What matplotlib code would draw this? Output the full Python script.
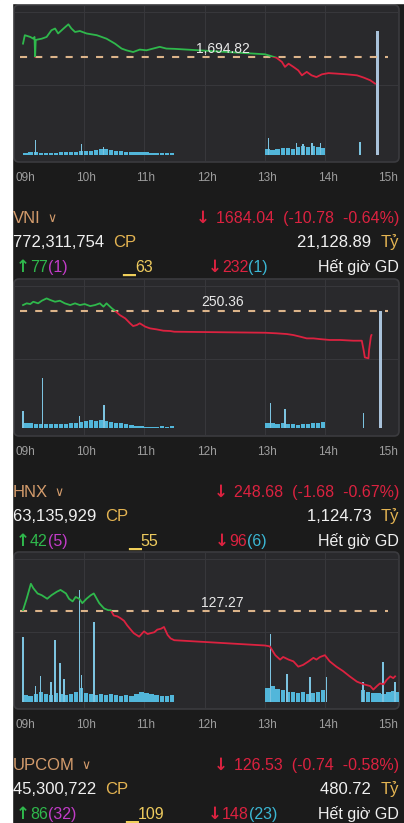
import matplotlib
matplotlib.use("Agg")
import matplotlib.pyplot as plt
from matplotlib.patches import Rectangle, FancyBboxPatch
from matplotlib.transforms import ScaledTranslation, IdentityTransform

plt.rcParams['font.family'] = ['Liberation Sans', 'DejaVu Sans']

W, H = 404, 823

# ---------------- data ----------------
hour_ticks = [9, 10, 11, 12, 13, 14, 15]
hour_labels = ["09h", "10h", "11h", "12h", "13h", "14h", "15h"]

# VNI
vni_ref = 1694.82
vni_t = [9.00, 9.03, 9.12, 9.17, 9.19, 9.20, 9.21, 9.23, 9.31, 9.39, 9.47, 9.53, 9.58, 9.67,
         9.75, 9.80, 9.86, 9.94, 10.05, 10.22, 10.38, 10.52, 10.63, 10.71, 10.82, 10.93, 11.04,
         11.15, 11.26, 11.37, 11.50, 13.00, 13.11, 13.19, 13.28, 13.33, 13.39, 13.47, 13.55,
         13.61, 13.69, 13.77, 13.85, 13.94, 14.05, 14.18, 14.35, 14.52, 14.63, 14.74, 14.82]
vni_p = [1700.2, 1703.6, 1702.9, 1702.2, 1702.9, 1694.8, 1701.6, 1701.8, 1702.2, 1702.9, 1705.6,
         1706.3, 1704.3, 1706.3, 1708.0, 1706.3, 1704.9, 1705.3, 1704.3, 1703.6, 1702.2, 1700.2,
         1698.2, 1697.5, 1696.8, 1697.8, 1697.5, 1698.2, 1698.9, 1698.2, 1698.1, 1695.9, 1695.1,
         1694.5, 1692.8, 1690.8, 1692.1, 1690.8, 1689.4, 1687.4, 1688.8, 1687.4, 1686.7, 1687.8,
         1688.3, 1688.1, 1687.8, 1687.4, 1686.5, 1685.4, 1684.04]
# khoi luong (don vi tuong doi), gom 5 phut
vni_vol_am = [2, 3, 3, 2, 2, 2, 2, 3, 3, 3, 3, 4, 4, 4, 5, 6, 6, 5, 4, 4, 3, 3, 3, 3, 3, 2, 2, 2, 2, 2]
vni_vol_pm = [6, 5, 6, 7, 7, 6, 8, 9, 8, 9, 8, 7]
vni_vol_late = []
vni_spike_t = [9.21, 9.97, 10.33, 13.06, 13.52, 13.63, 13.78, 13.92, 14.57]
vni_spike_v = [15, 11, 8, 17, 12, 11, 12, 12, 13]
vni_atc_t, vni_atc_v = 14.86, 124

# HNX
hnx_ref = 250.36
hnx_t = [9.00, 9.06, 9.12, 9.17, 9.25, 9.31, 9.39, 9.45, 9.53, 9.61, 9.69, 9.78, 9.86, 9.94,
         10.02, 10.11, 10.19, 10.27, 10.33, 10.38, 10.47, 10.52, 10.60, 10.69, 10.77, 10.82,
         10.88, 10.93, 11.02, 11.10, 11.21, 11.32, 11.43, 11.50, 13.00, 13.19, 13.36, 13.47,
         13.58, 13.69, 13.80, 13.91, 14.07, 14.24, 14.46, 14.60, 14.63, 14.65, 14.71, 14.72,
         14.75, 14.76]
hnx_p = [250.75, 250.87, 250.82, 250.98, 250.87, 251.05, 251.21, 251.10, 250.98, 251.05, 250.87,
         250.75, 250.87, 250.75, 250.82, 250.68, 250.75, 250.87, 250.64, 250.87, 250.52, 250.36,
         250.06, 249.83, 249.49, 249.30, 249.37, 249.49, 249.26, 249.14, 249.07, 248.98, 248.96,
         248.91, 248.84, 248.80, 248.75, 248.68, 248.57, 248.45, 248.45, 248.40, 248.34, 248.34,
         248.29, 248.29, 247.65, 247.14, 247.07, 247.65, 248.57, 248.68]
hnx_vol_am = [5, 5, 4, 4, 4, 4, 4, 4, 4, 5, 5, 6, 7, 8, 7, 8, 7, 6, 5, 5, 4, 3, 2, 2, 1, 1, 1, 2, 1, 2]
hnx_vol_pm = [5, 5, 4, 5, 4, 4, 3, 4, 4, 5, 5, 6]
hnx_vol_late = []
hnx_spike_t = [9.00, 9.32, 9.93, 10.34, 13.09, 13.33, 14.63]
hnx_spike_v = [17, 50, 12, 23, 25, 19, 15]
hnx_atc_t, hnx_atc_v = 14.91, 118

# UPCOM
upc_ref = 127.27
upc_t = [9.00, 9.06, 9.13, 9.17, 9.24, 9.31, 9.40, 9.47, 9.56, 9.62, 9.71, 9.76, 9.82, 9.87,
         9.93, 9.98, 10.05, 10.12, 10.17, 10.26, 10.34, 10.41, 10.45, 10.50, 10.56, 10.61,
         10.67, 10.72, 10.78, 10.83, 10.92, 11.00, 11.06, 11.11, 11.17, 11.22, 11.28, 11.33,
         11.39, 11.44, 11.50, 13.00, 13.08, 13.17, 13.25, 13.30, 13.39, 13.47, 13.55, 13.63,
         13.72, 13.80, 13.85, 13.91, 13.99, 14.07, 14.18, 14.29, 14.40, 14.52, 14.63, 14.74,
         14.79, 14.85, 14.90, 14.96, 15.01, 15.07, 15.12, 15.15]
upc_p = [127.28, 127.41, 127.58, 127.53, 127.47, 127.45, 127.41, 127.45, 127.49, 127.51, 127.47,
         127.41, 127.38, 127.43, 127.41, 127.36, 127.41, 127.45, 127.47, 127.36, 127.30, 127.28,
         127.28, 127.22, 127.21, 127.19, 127.16, 127.11, 127.06, 127.02, 126.98, 127.04, 127.01,
         127.02, 127.03, 127.06, 127.07, 127.09, 127.00, 126.96, 126.94, 126.88, 126.87, 126.77,
         126.72, 126.75, 126.72, 126.70, 126.64, 126.66, 126.70, 126.74, 126.72, 126.75, 126.77,
         126.70, 126.64, 126.59, 126.53, 126.47, 126.44, 126.42, 126.38, 126.42, 126.45, 126.44,
         126.49, 126.53, 126.51, 126.53]
upc_vol_am = [7, 6, 8, 10, 8, 7, 9, 8, 7, 8, 10, 14, 9, 8, 7, 8, 7, 8, 7, 6, 7, 6, 8, 10, 9, 8, 7, 6, 6, 7]
upc_vol_pm = [14, 16, 13, 12, 10, 10, 9, 10, 8, 9, 10, 12]
upc_vol_late = [12, 10, 9, 9, 8, 10, 11, 10]
upc_spike_t = [9.00, 9.21, 9.29, 9.46, 9.53, 9.61, 9.68, 9.93, 9.97, 10.17, 13.09, 13.36, 13.74,
               14.02, 14.62, 14.95, 15.15]
upc_spike_v = [65, 16, 26, 20, 62, 39, 23, 112, 27, 80, 68, 28, 25, 25, 20, 40, 20]
upc_atc_t, upc_atc_v = None, 0

# thong tin ben duoi moi bieu do
names = ["VNI", "HNX", "UPCOM"]
closes = ["1684.04  (-10.78  -0.64%)", "248.68  (-1.68  -0.67%)", "126.53  (-0.74  -0.58%)"]
volumes = ["772,311,754", "63,135,929", "45,300,722"]
values = ["21,128.89", "1,124.73", "480.72"]
n_up = ["77", "42", "86"]
n_ceil = ["(1)", "(5)", "(32)"]
n_flat = ["63", "55", "109"]
n_down = ["232", "96", "148"]
n_floor = ["(1)", "(6)", "(23)"]

# ---------------- layout / style ----------------
BG = '#1b1b1b'
BOX = '#29292c'
GREEN = '#2fb84c'
RED = '#dc2240'
TAN = '#d49c6c'
GOLD = '#e4b452'
WHITE = '#f0f0f0'
ARROW = ['DejaVu Sans']

box_tops = [5, 279, 552]
box_h = 157
box_x0, box_w = 14, 385
ylims = [(1652.4, 1715.8), (241.71, 252.55), (126.16, 127.94)]
xlim = (8.851, 15.215)
vol_lim = (-7.5, 149.5)
flat_x = [122, 128, 125]
down_x = [208, 215, 208]

fig = plt.figure(figsize=(W / 100, H / 100), dpi=100, facecolor=BG)

panels = [
    (vni_ref, vni_t, vni_p, vni_vol_am, vni_vol_pm, vni_vol_late, vni_spike_t, vni_spike_v, vni_atc_t, vni_atc_v),
    (hnx_ref, hnx_t, hnx_p, hnx_vol_am, hnx_vol_pm, hnx_vol_late, hnx_spike_t, hnx_spike_v, hnx_atc_t, hnx_atc_v),
    (upc_ref, upc_t, upc_p, upc_vol_am, upc_vol_pm, upc_vol_late, upc_spike_t, upc_spike_v, upc_atc_t, upc_atc_v),
]


def buckets(start, n):
    return [start + (i + 0.5) * 5 / 60 for i in range(n)]


for i, (ref, t, p, v_am, v_pm, v_late, sp_t, sp_v, atc_t, atc_v) in enumerate(panels):
    top = box_tops[i]
    rect = [box_x0 / W, 1 - (top + box_h) / H, box_w / W, box_h / H]

    fig.patches.append(FancyBboxPatch((box_x0, H - top - box_h), box_w, box_h,
                                      boxstyle="round,pad=0,rounding_size=5",
                                      transform=IdentityTransform(), facecolor=BOX,
                                      edgecolor='#3b3b3f', lw=1.2, zorder=-5))

    # khoi luong
    vax = fig.add_axes(rect)
    vax.patch.set_visible(False)
    vax.set_xlim(*xlim)
    vax.set_ylim(*vol_lim)
    vax.set_axis_off()
    for hh in hour_ticks[1:-1]:
        vax.axvline(hh, color='#37373b', lw=0.8, zorder=0)
    for f in (0.955, 0.49):
        vax.plot([0, 1], [f, f], transform=vax.transAxes, color='#37373b', lw=0.8, zorder=0)
    vax.bar(buckets(9.0, len(v_am)), v_am, width=4.2 / 60, color='#52b6da', lw=0)
    vax.bar(buckets(13.0, len(v_pm)), v_pm, width=4.2 / 60, color='#52b6da', lw=0)
    vax.bar(buckets(14 + 35 / 60, len(v_late)), v_late, width=4.2 / 60, color='#52b6da', lw=0)
    vax.bar(sp_t, sp_v, width=1.5 / 60, color='#7cc3e0', lw=0)
    if atc_t is not None:
        vax.bar([atc_t], [atc_v], width=2.4 / 60, color='#a9c2da', lw=0)

    # gia
    ax = fig.add_axes(rect)
    ax.patch.set_visible(False)
    ax.set_xlim(*xlim)
    ax.set_ylim(*ylims[i])
    for s in ax.spines.values():
        s.set_visible(False)
    ax.set_yticks([])
    ax.set_xticks(hour_ticks, hour_labels)
    ax.tick_params(axis='x', length=0, pad=7, labelcolor='#9e9e9e', labelsize=8.5)
    shift = ScaledTranslation(0.02, 0, fig.dpi_scale_trans)
    for lab in ax.get_xticklabels():
        lab.set_transform(lab.get_transform() + shift)

    ax.hlines(ref, hour_ticks[0] - 0.05, hour_ticks[-1] + 0.03, colors='#dcb48a',
              linestyles=(0, (3.4, 3.9)), lw=1.5, zorder=2)
    ylo, yhi = ylims[i]
    up_clip = Rectangle((xlim[0], ref), xlim[1] - xlim[0], yhi - ref, transform=ax.transData)
    dn_clip = Rectangle((xlim[0], ylo), xlim[1] - xlim[0], ref - ylo, transform=ax.transData)
    g, = ax.plot(t, p, color=GREEN, lw=1.3, zorder=3)
    r, = ax.plot(t, p, color=RED, lw=1.3, zorder=3)
    g.set_clip_path(up_clip)
    r.set_clip_path(dn_clip)
    ax.annotate(f"{ref:,.2f}", xy=(12.3, ref), xytext=(0, 1), textcoords='offset points',
                ha='center', va='bottom', color='#e8e8e8', fontsize=10, zorder=4)

# lop chu (toa do pixel, goc tren trai)
tax = fig.add_axes([0, 0, 1, 1])
tax.set_axis_off()
tax.set_xlim(0, W)
tax.set_ylim(H, 0)
tax.add_patch(Rectangle((0, 0), 12, H, color='white', zorder=0))
tax.add_patch(Rectangle((0, 0), W, 2.5, color='white', zorder=0))


def chain(x, y, pieces, size=11.5):
    prev = None
    for s, c, fam, sz in pieces:
        kw = dict(color=c, fontsize=sz or size, va='baseline')
        if fam:
            kw['family'] = fam
            kw['weight'] = 'bold'
        if prev is None:
            prev = tax.text(x, y, s, ha='left', **kw)
        else:
            prev = tax.annotate(s, xy=(1, y), xycoords=(prev, 'data'), ha='left', **kw)
    return prev


for i in range(3):
    bottom = box_tops[i] + box_h
    y_name = bottom + 55 + 6
    y_cp = bottom + 79 + 6
    y_st = bottom + 104 + 6

    nm = tax.text(13, y_name, names[i], color=TAN, fontsize=12, va='baseline')
    tax.annotate("  ∨", xy=(1, y_name - 1), xycoords=(nm, 'data'), color=TAN, fontsize=9,
                 va='baseline')
    cl = tax.text(399, y_name, closes[i], color=RED, fontsize=11.5, ha='right', va='baseline')
    tax.annotate("↓ ", xy=(0, y_name), xycoords=(cl, 'data'), color=RED, fontsize=12,
                 family=ARROW, weight='bold', ha='right', va='baseline')

    chain(13, y_cp, [(volumes[i] + "  ", WHITE, None, 12), ("CP", GOLD, None, 12)])
    ty = tax.text(399, y_cp, "Tỷ", color=GOLD, fontsize=12, ha='right', va='baseline')
    tax.annotate(values[i] + "  ", xy=(0, y_cp), xycoords=(ty, 'data'),
                 color=WHITE, fontsize=12, ha='right', va='baseline')

    chain(16, y_st, [("↑", GREEN, ARROW, 12), (n_up[i], GREEN, None, None),
                     (n_ceil[i], '#c23cc8', None, None)])
    chain(flat_x[i], y_st, [("▁", '#f0cf5a', ARROW, 12), (n_flat[i], '#eecb5e', None, None)])
    chain(down_x[i], y_st, [("↓", RED, ARROW, 12), (n_down[i], RED, None, None),
                            (n_floor[i], '#3bb7d4', None, None)])
    tax.text(399, y_st, "Hết giờ GD", color=WHITE, fontsize=11.5, ha='right', va='baseline')

fig.savefig("out.png", dpi=100, facecolor=BG)
